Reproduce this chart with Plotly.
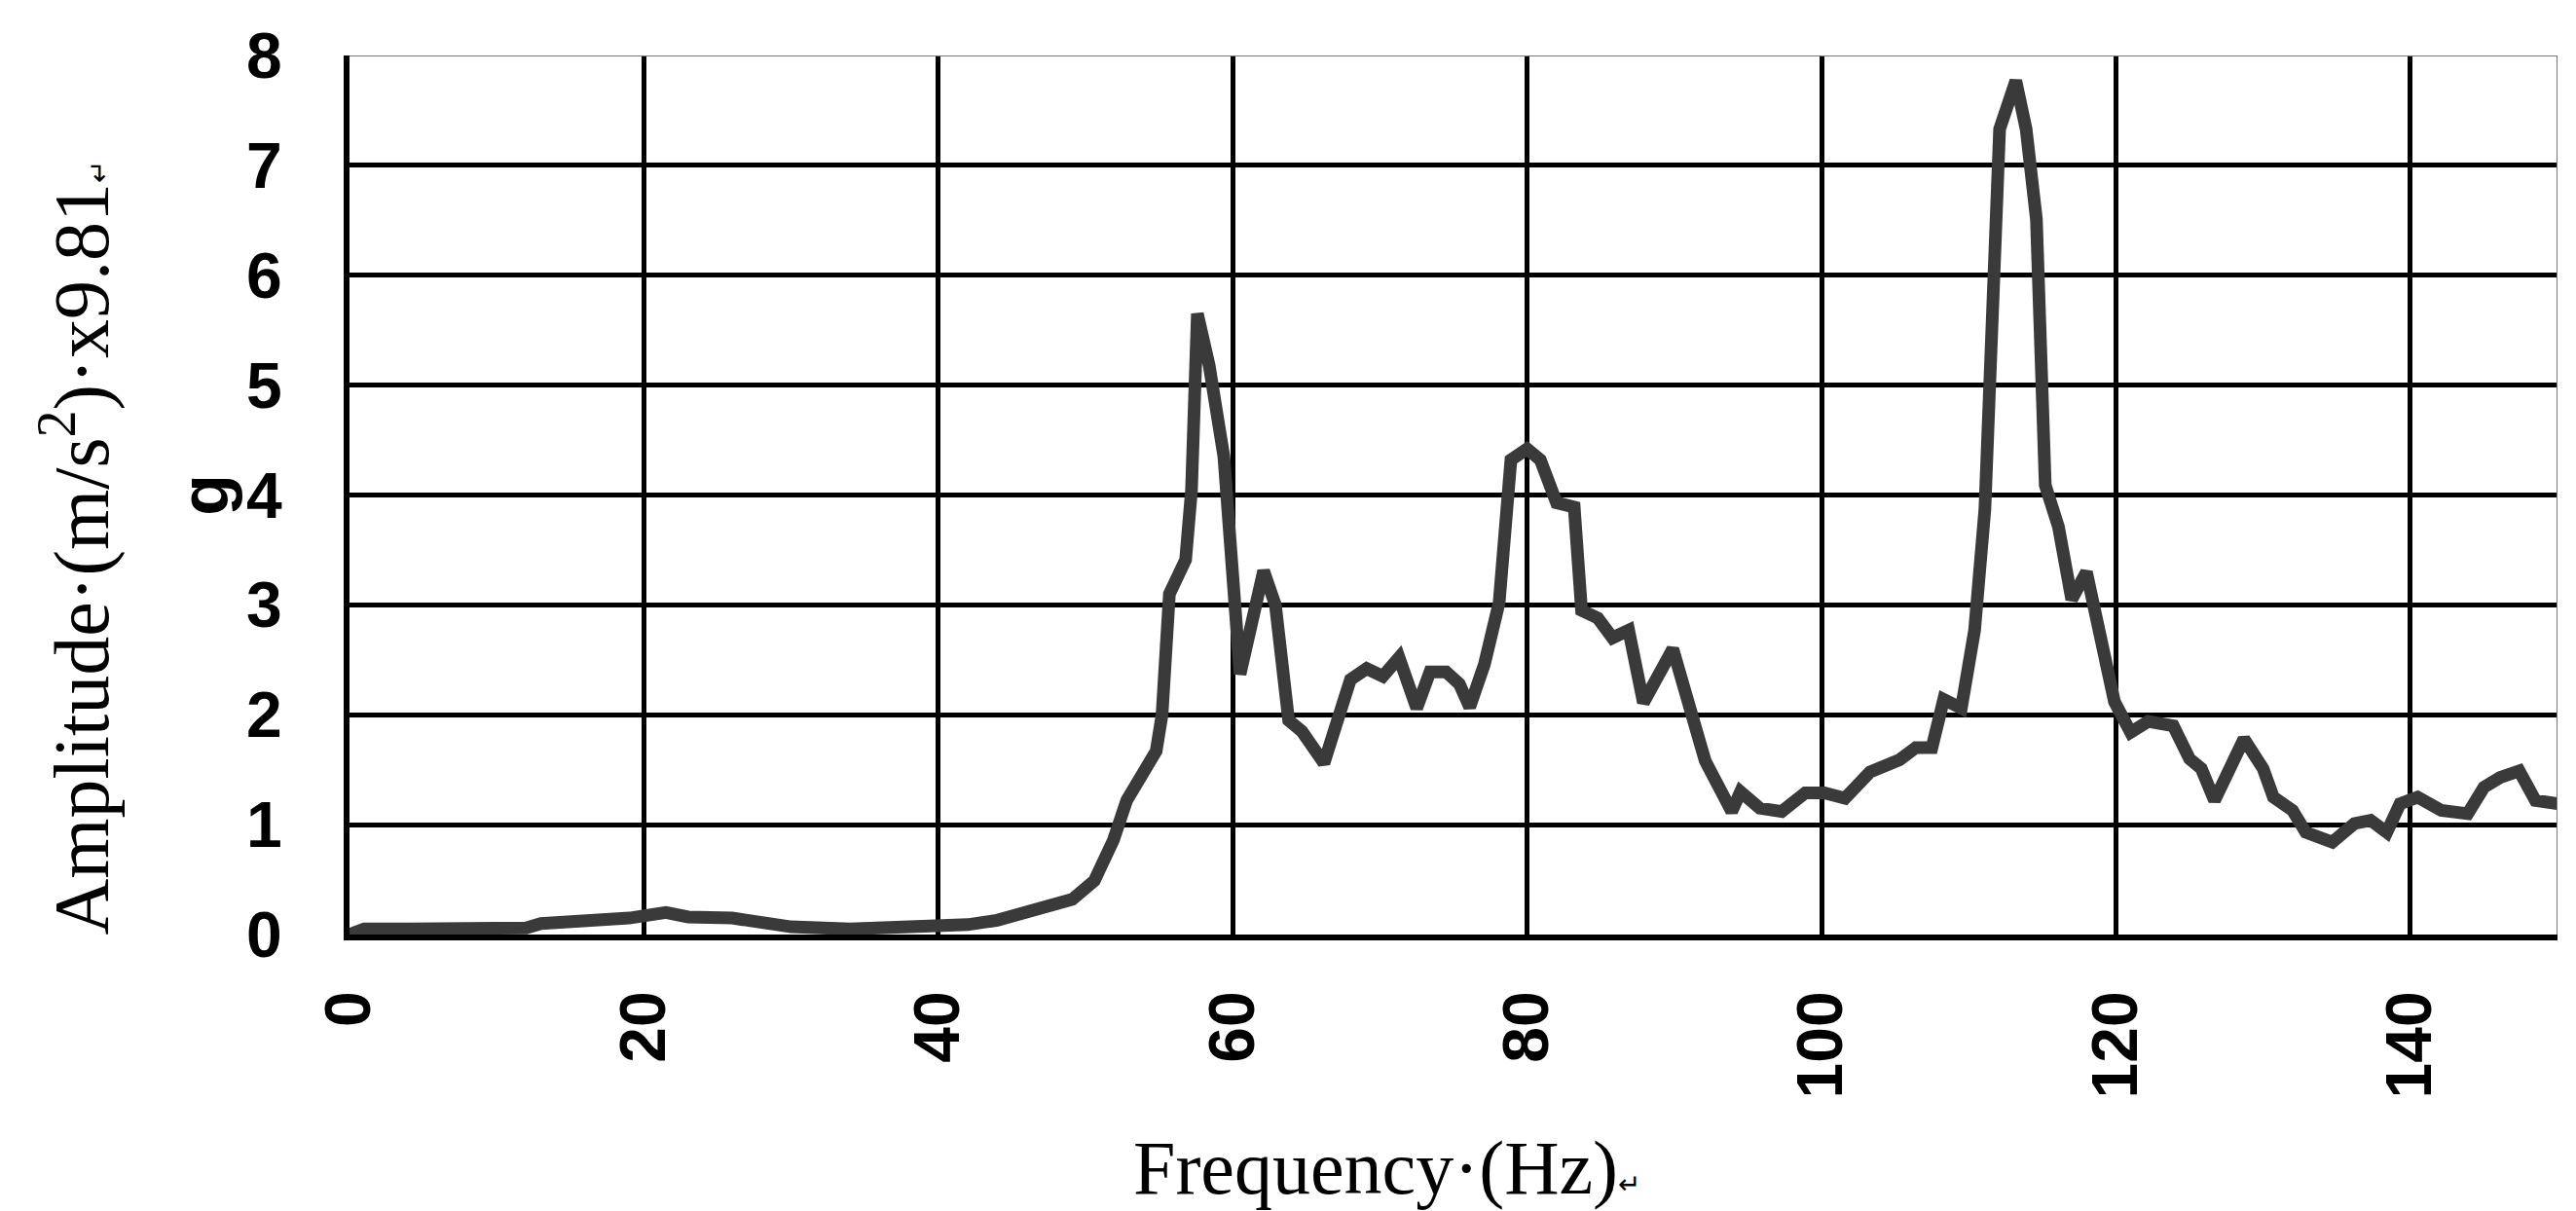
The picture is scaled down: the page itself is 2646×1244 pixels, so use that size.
import plotly.graph_objects as go

# frequency (Hz) and amplitude (g)
freq = [0, 1, 4, 8, 12, 13, 17, 19, 21.5, 23, 26, 28, 30, 34, 38, 40, 42, 44, 46.2, 48,
        49.1, 50.6, 51.9, 52.8, 54.8, 55.2, 55.7, 56.8, 57.2, 57.6, 58.4, 59.4, 60.5, 62.1, 62.9,
        63.8, 64.7, 66.2, 68.0, 69.1, 70.2, 71.3, 72.5, 73.4, 74.5, 75.4, 76.1, 77.1, 78.1, 78.9,
        80.0, 80.9, 82.0, 83.2, 83.7, 84.8, 85.8, 86.9, 87.9, 89.9, 91.2, 92.1, 93.9, 94.5, 95.8,
        97.3, 98.9, 100.2, 101.6, 103.3, 105.3, 106.4, 107.5, 108.3, 109.5, 110.4, 111.1, 111.7,
        112.1, 113.2, 113.9, 114.6, 115.2, 116.1, 117.0, 118.0, 118.8, 119.9, 121.0, 122.2,
        123.9, 125.0, 125.8, 126.7, 128.7, 130.0, 130.7, 132.0, 132.9, 134.7, 136.2, 137.3,
        138.4, 139.3, 140.5, 142.1, 143.9, 145.0, 146.1, 147.4, 148.5, 150.0]
amp = [0.0, 0.05, 0.05, 0.05, 0.06, 0.1, 0.13, 0.15, 0.2, 0.16, 0.15, 0.12, 0.07, 0.05, 0.06, 0.08, 0.09, 0.13, 0.2, 0.27,
       0.32, 0.49, 0.86, 1.22, 1.67, 2.0, 3.1, 3.41, 4.04, 5.65, 5.18, 4.35, 2.37, 3.31, 3.0,
       1.95, 1.85, 1.56, 2.32, 2.42, 2.35, 2.52, 2.06, 2.39, 2.39, 2.28, 2.07, 2.46, 3.02, 4.32,
       4.42, 4.32, 3.93, 3.89, 2.95, 2.88, 2.70, 2.77, 2.11, 2.6, 1.96, 1.58, 1.12, 1.30, 1.15,
       1.12, 1.29, 1.29, 1.24, 1.48, 1.59, 1.70, 1.70, 2.14, 2.06, 2.77, 3.87, 5.69,
       7.33, 7.77, 7.33, 6.51, 4.09, 3.71, 3.05, 3.30, 2.77, 2.12, 1.84, 1.94,
       1.90, 1.60, 1.51, 1.22, 1.78, 1.51, 1.25, 1.13, 0.93, 0.84, 1.01, 1.04,
       0.93, 1.19, 1.25, 1.13, 1.10, 1.34, 1.43, 1.49, 1.22, 1.19]

x_ticks = [0, 20, 40, 60, 80, 100, 120, 140]
y_ticks = [0, 1, 2, 3, 4, 5, 6, 7, 8]

y_title = "Amplitude·(m/s<sup>2</sup>)·x9.81<span style='font-size:28px'>↵</span>"
x_title = "Frequency·(Hz)<span style='font-size:28px'>↵</span>"

fig = go.Figure()
fig.add_trace(go.Scatter(x=freq, y=amp, mode="lines",
                         line=dict(color="#3a3a3a", width=13), showlegend=False))

tick_font = dict(family="Liberation Sans, Arial", size=66, color="black", weight="bold")
serif = "Liberation Serif, Times New Roman"

fig.update_layout(
    width=2646, height=1244, autosize=False,
    margin=dict(l=351, r=27, t=47, b=292),
    plot_bgcolor="white", paper_bgcolor="white",
    xaxis=dict(range=[0, 150], tickvals=x_ticks, tickangle=-90, tickfont=tick_font,
               showgrid=True, gridcolor="black", gridwidth=5, zeroline=False,
               showline=True, linecolor="black", linewidth=6,
               ticks="", ticklabelstandoff=26),
    yaxis=dict(range=[0, 8], tickvals=y_ticks, tickfont=tick_font,
               showgrid=True, gridcolor="black", gridwidth=5, zeroline=False,
               showline=True, linecolor="black", linewidth=6,
               ticks="", ticklabelstandoff=50),
    shapes=[
        dict(type="line", xref="x", yref="y", x0=0, x1=150, y0=8, y1=8,
             line=dict(color="#777777", width=2), layer="above"),
        dict(type="line", xref="x", yref="y", x0=150, x1=150, y0=0, y1=8,
             line=dict(color="#777777", width=2), layer="above"),
    ],
    annotations=[
        dict(text=y_title, xref="paper", yref="paper", x=-0.124, y=0.44,
             xanchor="center", yanchor="middle", textangle=-90, showarrow=False,
             font=dict(family=serif, size=80, color="black")),
        dict(text="g", xref="paper", yref="y", x=-0.066, y=4.0,
             xanchor="center", yanchor="middle", textangle=-90, showarrow=False,
             font=dict(family="Liberation Sans, Arial", size=70, color="black", weight="bold")),
        dict(text=x_title, xref="paper", yref="paper", x=0.47, y=-0.265,
             xanchor="center", yanchor="middle", showarrow=False,
             font=dict(family=serif, size=78, color="black")),
    ],
)

fig.write_html("out.html")
